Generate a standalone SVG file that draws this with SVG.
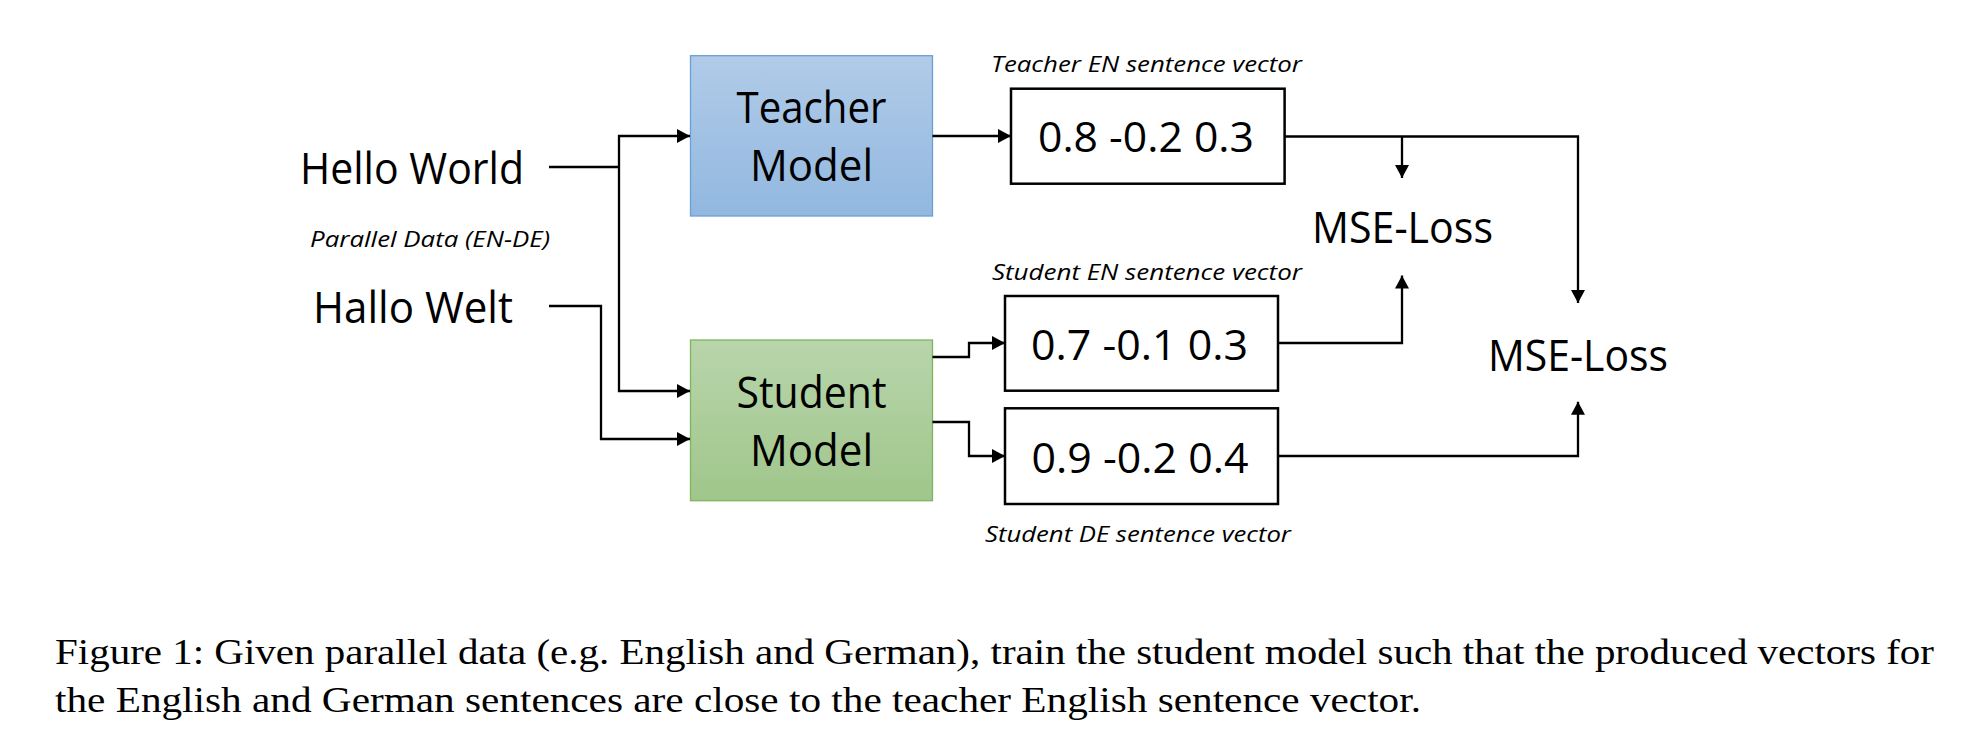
<svg xmlns="http://www.w3.org/2000/svg" width="1984" height="740" viewBox="0 0 1984 740">
<defs>
<linearGradient id="gBlue" x1="0" y1="0" x2="0" y2="1">
<stop offset="0" stop-color="#B1CBE8"/>
<stop offset="1" stop-color="#92B8E0"/>
</linearGradient>
<linearGradient id="gGreen" x1="0" y1="0" x2="0" y2="1">
<stop offset="0" stop-color="#B8D5AB"/>
<stop offset="1" stop-color="#A0C68B"/>
</linearGradient>
<marker id="ah" viewBox="0 0 13 14" refX="13" refY="7" markerWidth="13" markerHeight="14" markerUnits="userSpaceOnUse" orient="auto">
<path d="M0,0 L13,7 L0,14 z" fill="#000"/>
</marker>
<style>
.big{font-family:"Open Sans","Liberation Sans",sans-serif;font-size:43px;fill:#000}
.num{font-family:"Open Sans","Liberation Sans",sans-serif;font-size:42px;fill:#000}
.lbl{font-family:"Open Sans","Liberation Sans",sans-serif;font-size:22.5px;font-style:italic;fill:#000}
.cap{font-family:"Liberation Serif","Times New Roman",serif;font-size:36px;fill:#000}
.vec{fill:#fff;stroke:#000;stroke-width:2.5}
.conn path{fill:none;stroke:#000;stroke-width:2.3}
.arr{marker-end:url(#ah)}
</style>
</defs>
<rect width="1984" height="740" fill="#fff"/>

<g id="hello-world"><text class="big" x="300" y="184" textLength="224" lengthAdjust="spacingAndGlyphs">Hello World</text></g>
<g id="hallo-welt"><text class="big" x="313" y="323" textLength="200" lengthAdjust="spacingAndGlyphs">Hallo Welt</text></g>
<g id="parallel-data"><text class="lbl" x="310" y="247" textLength="240" lengthAdjust="spacingAndGlyphs">Parallel Data (EN-DE)</text></g>

<g id="teacher-model">
<rect x="690.5" y="55.7" width="242" height="160.3" fill="url(#gBlue)" stroke="#6A9FD6" stroke-width="1.3"/>
<text class="big" x="811.5" y="123" text-anchor="middle" textLength="150" lengthAdjust="spacingAndGlyphs">Teacher</text>
<text class="big" x="811.5" y="181" text-anchor="middle" textLength="123" lengthAdjust="spacingAndGlyphs">Model</text>
</g>
<g id="student-model">
<rect x="690.5" y="340" width="242" height="160.7" fill="url(#gGreen)" stroke="#7DB55E" stroke-width="1.3"/>
<text class="big" x="811.5" y="408" text-anchor="middle" textLength="150" lengthAdjust="spacingAndGlyphs">Student</text>
<text class="big" x="811.5" y="466" text-anchor="middle" textLength="123" lengthAdjust="spacingAndGlyphs">Model</text>
</g>

<g id="teacher-en-vector">
<text class="lbl" x="991" y="72" textLength="311" lengthAdjust="spacingAndGlyphs">Teacher EN sentence vector</text>
<rect class="vec" x="1011" y="88.7" width="273.6" height="95"/>
<text class="num" x="1146" y="151.7" text-anchor="middle" textLength="216" lengthAdjust="spacingAndGlyphs">0.8 -0.2 0.3</text>
</g>
<g id="student-en-vector">
<text class="lbl" x="992" y="280" textLength="310" lengthAdjust="spacingAndGlyphs">Student EN sentence vector</text>
<rect class="vec" x="1005" y="296" width="273" height="94.7"/>
<text class="num" x="1139.5" y="360" text-anchor="middle" textLength="217" lengthAdjust="spacingAndGlyphs">0.7 -0.1 0.3</text>
</g>
<g id="student-de-vector">
<rect class="vec" x="1005" y="408.3" width="273" height="95.7"/>
<text class="num" x="1140" y="473.3" text-anchor="middle" textLength="217" lengthAdjust="spacingAndGlyphs">0.9 -0.2 0.4</text>
<text class="lbl" x="985" y="541.7" textLength="306" lengthAdjust="spacingAndGlyphs">Student DE sentence vector</text>
</g>

<g id="mse-loss-1"><text class="big" x="1312" y="243.3" textLength="181" lengthAdjust="spacingAndGlyphs">MSE-Loss</text></g>
<g id="mse-loss-2"><text class="big" x="1488" y="370.7" textLength="180" lengthAdjust="spacingAndGlyphs">MSE-Loss</text></g>

<g id="connectors" class="conn">
<path d="M549,167 H619"/>
<path class="arr" d="M619,167 V136 H690"/>
<path class="arr" d="M619,167 V391 H690"/>
<path class="arr" d="M549,306 H601 V439 H690"/>
<path class="arr" d="M932.5,136 H1011"/>
<path class="arr" d="M932.5,357 H969 V343 H1005"/>
<path class="arr" d="M932.5,422 H969 V456 H1005"/>
<path class="arr" d="M1284.6,136.5 H1578 V303"/>
<path class="arr" d="M1402,136.5 V178"/>
<path class="arr" d="M1278,343 H1402 V275.5"/>
<path class="arr" d="M1278,456 H1578 V401.7"/>
</g>

<g id="caption">
<text class="cap" x="55" y="664" textLength="1879" lengthAdjust="spacingAndGlyphs">Figure 1: Given parallel data (e.g. English and German), train the student model such that the produced vectors for</text>
<text class="cap" x="55" y="711.5" textLength="1366" lengthAdjust="spacingAndGlyphs">the English and German sentences are close to the teacher English sentence vector.</text>
</g>
</svg>
